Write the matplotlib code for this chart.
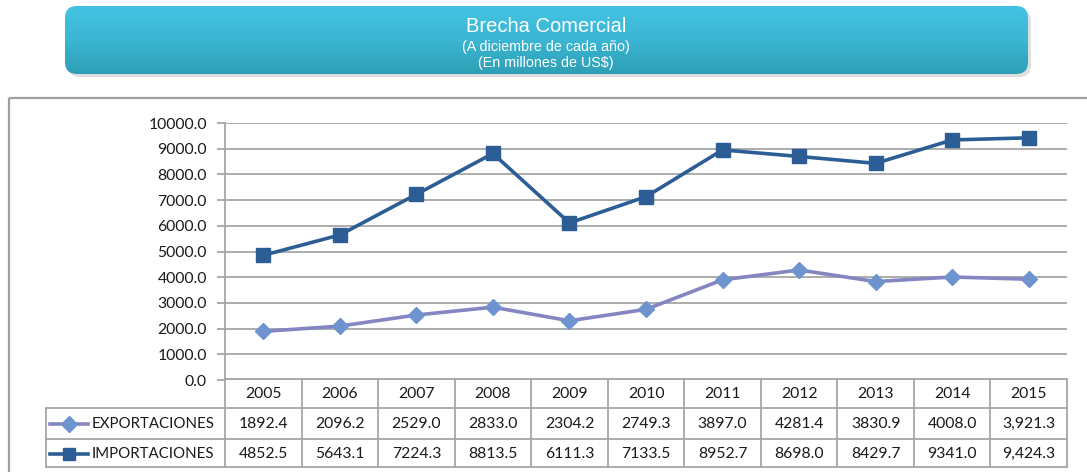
import matplotlib
matplotlib.use("Agg")
import matplotlib.pyplot as plt
import numpy as np
from matplotlib.patches import FancyBboxPatch, Rectangle
from matplotlib.colors import LinearSegmentedColormap

years = ["2005", "2006", "2007", "2008", "2009", "2010", "2011", "2012", "2013", "2014", "2015"]
exportaciones = [1892.4, 2096.2, 2529.0, 2833.0, 2304.2, 2749.3, 3897.0, 4281.4, 3830.9, 4008.0, 3921.3]
importaciones = [4852.5, 5643.1, 7224.3, 8813.5, 6111.3, 7133.5, 8952.7, 8698.0, 8429.7, 9341.0, 9424.3]
export_labels = ["1892.4", "2096.2", "2529.0", "2833.0", "2304.2", "2749.3", "3897.0", "4281.4", "3830.9", "4008.0", "3,921.3"]
import_labels = ["4852.5", "5643.1", "7224.3", "8813.5", "6111.3", "7133.5", "8952.7", "8698.0", "8429.7", "9341.0", "9,424.3"]
series_names = ["EXPORTACIONES", "IMPORTACIONES"]
title = "Brecha Comercial"
subtitle1 = "(A diciembre de cada año)"
subtitle2 = "(En millones de US$)"

W, H = 1087, 472
fig = plt.figure(figsize=(W / 100, H / 100), dpi=100)
fig.patch.set_facecolor("white")

def fx(px):
    return px / W

def fy(py):
    return 1 - py / H

FONT = "Lato"
NUMSIZE = 11.3
GRID = "#a6a6a6"
EXP_LINE = "#8585c2"
EXP_MARK = "#6d94cf"
IMP_COLOR = "#2c5e95"

# Outer chart border
bg = fig.add_axes([0, 0, 1, 1])
bg.set_xlim(0, W)
bg.set_ylim(H, 0)
bg.axis("off")
bg.add_patch(Rectangle((8.5, 97.5), W + 20, H, fill=False, edgecolor="#a0a0a0", lw=1.6))

# Title banner with shadow
bg.add_patch(FancyBboxPatch((68, 10), 963, 67, boxstyle="round,pad=0,rounding_size=12",
                            facecolor="#c8c8c8", edgecolor="none", alpha=0.6))
banner_top, banner_h = 6, 68
grad = np.linspace(0, 1, 256).reshape(-1, 1)
cmap = LinearSegmentedColormap.from_list("b", ["#43c3e3", "#3bb6d3", "#2e9fb5"])
banner = FancyBboxPatch((65, banner_top), 963, banner_h, boxstyle="round,pad=0,rounding_size=12",
                        facecolor="none", edgecolor="none")
bg.add_patch(banner)
im = bg.imshow(grad, extent=(65, 1028, banner_top + banner_h, banner_top), cmap=cmap, aspect="auto", zorder=2)
im.set_clip_path(banner)
bg.text(546, 27, title, ha="center", va="center", color="white", fontsize=14.5, family="Liberation Sans", zorder=3)
bg.text(546, 47, subtitle1, ha="center", va="center", color="white", fontsize=10.3, family="Liberation Sans", zorder=3)
bg.text(546, 63, subtitle2, ha="center", va="center", color="white", fontsize=10.3, family="Liberation Sans", zorder=3)

# Main plot axes
x0, x1 = 225, 1067
ytop, ybot = 123, 380
ax = fig.add_axes([fx(x0), fy(ybot), fx(x1) - fx(x0), fy(ytop) - fy(ybot)])
ax.set_xlim(-0.5, len(years) - 0.5)
ax.set_ylim(0, 10000)
ax.set_yticks(np.arange(0, 10001, 1000))
ax.set_yticklabels([f"{v:.1f}" for v in np.arange(0, 10001, 1000)])
ax.set_xticks([])
for s in ["top", "right", "bottom"]:
    ax.spines[s].set_visible(False)
ax.spines["left"].set_color(GRID)
ax.spines["left"].set_linewidth(1.3)
ax.tick_params(axis="y", length=6, width=1.3, color=GRID, labelsize=NUMSIZE, pad=7, labelcolor="#1a1a1a")
for lbl in ax.get_yticklabels():
    lbl.set_family(FONT)
ax.yaxis.grid(True, color=GRID, lw=1.3)
ax.set_axisbelow(True)
ax.patch.set_alpha(0)

xs = np.arange(len(years))
ax.plot(xs, exportaciones, color=EXP_LINE, lw=2.6, marker="D", markersize=8.5,
        markerfacecolor=EXP_MARK, markeredgecolor=EXP_MARK, clip_on=False, zorder=3)
ax.plot(xs, importaciones, color=IMP_COLOR, lw=2.6, marker="s", markersize=10,
        markerfacecolor=IMP_COLOR, markeredgecolor=IMP_COLOR, clip_on=False, zorder=3)

# Data table
t_top, t_bot = 379, 467
tax = fig.add_axes([fx(x0), fy(t_bot), fx(x1) - fx(x0), fy(t_top) - fy(t_bot)])
tax.set_xlim(-0.5, len(years) - 0.5)
tax.set_ylim(3, 0)
tax.axis("off")
colw = (x1 - x0) / len(years)
left_x = -0.5 - (x0 - 46) / colw
row_edges = [0, 1.0, 2.05, 3]
TL = dict(color=GRID, lw=1.3, clip_on=False)
tax.plot([-0.5, len(years) - 0.5], [row_edges[0]] * 2, **TL)
for r in row_edges[1:]:
    tax.plot([left_x, len(years) - 0.5], [r, r], **TL)
for i in range(len(years) + 1):
    tax.plot([i - 0.5, i - 0.5], [0, 3], **TL)
tax.plot([left_x, left_x], [row_edges[1], 3], **TL)

for i, y in enumerate(years):
    tax.text(i, 0.52, y, ha="center", va="center", fontsize=NUMSIZE, family=FONT, clip_on=False, color="#1a1a1a")
    tax.text(i, 1.54, export_labels[i], ha="center", va="center", fontsize=NUMSIZE, family=FONT, clip_on=False, color="#1a1a1a")
    tax.text(i, 2.55, import_labels[i], ha="center", va="center", fontsize=NUMSIZE, family=FONT, clip_on=False, color="#1a1a1a")

# legend keys in table
px = 1.0 / colw
lx0 = left_x + 4 * px
lx1 = left_x + 42 * px
tax.plot([lx0, lx1], [1.54, 1.54], color=EXP_LINE, lw=2.6, clip_on=False)
tax.plot([(lx0 + lx1) / 2], [1.54], marker="D", markersize=8, color=EXP_MARK, clip_on=False)
tax.plot([lx0, lx1], [2.55, 2.55], color=IMP_COLOR, lw=2.6, clip_on=False)
tax.plot([(lx0 + lx1) / 2], [2.55], marker="s", markersize=9, color=IMP_COLOR, clip_on=False)
tax.text(left_x + 46 * px, 1.54, series_names[0], ha="left", va="center", fontsize=10.8, family=FONT, clip_on=False, color="#1a1a1a")
tax.text(left_x + 46 * px, 2.55, series_names[1], ha="left", va="center", fontsize=10.8, family=FONT, clip_on=False, color="#1a1a1a")

fig.savefig("out.png", dpi=100)
